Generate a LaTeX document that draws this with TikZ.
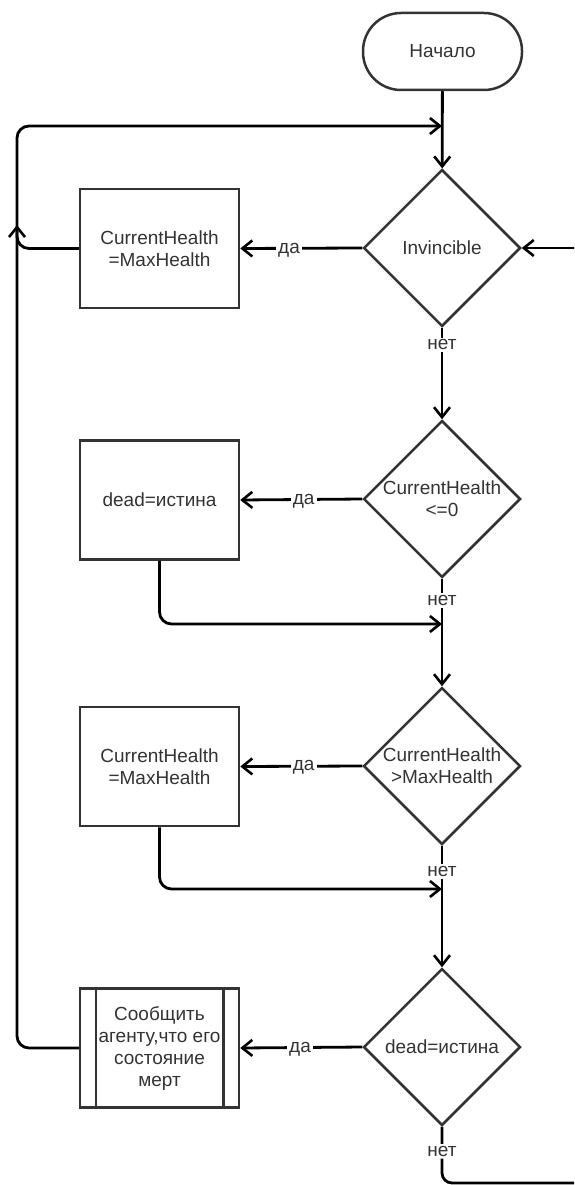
\documentclass[tikz,border=0pt]{standalone}
\usepackage{fontspec}
\setmainfont{Liberation Sans}
\usetikzlibrary{shapes.geometric,arrows.meta}
\definecolor{ink}{HTML}{333333}
\begin{document}
\begin{tikzpicture}[x=1pt,y=-1pt,
  every node/.style={font=\fontsize{19}{22}\selectfont, text=ink},
  outline/.style={draw=ink, line width=2.5pt},
  terminal/.style={outline, rectangle, rounded corners=38pt,
    minimum width=159pt, minimum height=77pt, inner sep=0pt},
  procbox/.style={outline, rectangle, minimum width=159pt,
    minimum height=119pt, inner sep=0pt, align=center},
  decision/.style={outline, diamond, minimum width=157pt,
    minimum height=157pt, inner sep=0pt},
  conn/.style={draw=black, line width=2.8pt,
    -{Straight Barb[length=10pt,width=16pt,line width=2.6pt]}},
  flow/.style={draw=black, line width=2.8pt},
  lbl/.style={fill=white, inner sep=2pt, text=ink, yshift=-1.5pt}
]
% page and clipping frame
\fill[white] (0,0) rectangle (574,1185);
\useasboundingbox (0,0) rectangle (574,1185);
\clip (0,0) rectangle (574,1185);

% shapes
\node[terminal] (start) at (442.5,51.5) {Начало};

\node[decision, label={[align=center]center:Invincible}] (d1) at (442,248) {};
\node[procbox] (b1) at (159.5,248.5) {CurrentHealth\\=MaxHealth};

\node[decision, label={[align=center]center:CurrentHealth\\{<=0}}] (d2) at (442,499) {};
\node[procbox] (b2) at (159.5,500) {dead=истина};

\node[decision, label={[align=center]center:CurrentHealth\\{>MaxHealth}}] (d3) at (442,766) {};
\node[procbox] (b3) at (159.5,766.5) {CurrentHealth\\=MaxHealth};

\node[decision, label={[align=center]center:dead=истина}] (d4) at (442,1047) {};
\node[procbox] (b4) at (159.5,1048) {Сообщить\\агенту,что его\\состояние\\мерт};
\draw[outline] ([xshift=17pt]b4.north west) -- ([xshift=17pt]b4.south west);
\draw[outline] ([xshift=-17pt]b4.north east) -- ([xshift=-17pt]b4.south east);

% junction points and free ends
\coordinate (j1) at (442,126);
\coordinate (j2) at (442,624);
\coordinate (j3) at (442,889);
\coordinate (up) at (17,225);
\coordinate (rin) at (585,248);
\coordinate (rout) at (600,1183);

% main column
\draw[conn] (start) -- (d1);
\draw[conn] (d1.south) -- node[lbl, pos=0.17] {нет} (d2.north);
\draw[conn] (d2.south) -- node[lbl, pos=0.19] {нет} (d3.north);
\draw[conn] (d3.south) -- node[lbl, pos=0.2] {нет} (d4.north);
\draw[flow, rounded corners=10pt] (d4.south) -- node[lbl, pos=0.41] {нет} (442,1183) -- (rout);
\draw[conn] (rin) -- (d1.east);

% "yes" branches
\draw[conn] (d1.west) -- node[lbl, pos=0.6] {да} (b1.east);
\draw[conn] (d2.west) -- node[lbl, pos=0.48] {да} (b2.east);
\draw[conn] (d3.west) -- node[lbl, pos=0.48] {да} (b3.east);
\draw[conn] (d4.west) -- node[lbl, pos=0.51] {да} (b4.east);

% returns to the main column
\draw[conn, rounded corners=12pt] (b1.west) -- (17,248.5) -- (17,126) -- (j1);
\draw[conn, rounded corners=12pt] (b2.south) -- (159.5,624) -- (j2);
\draw[conn, rounded corners=12pt] (b3.south) -- (159.5,889) -- (j3);
\draw[conn, rounded corners=12pt] (b4.west) -- (17,1048) -- (up);
\end{tikzpicture}
\end{document}
